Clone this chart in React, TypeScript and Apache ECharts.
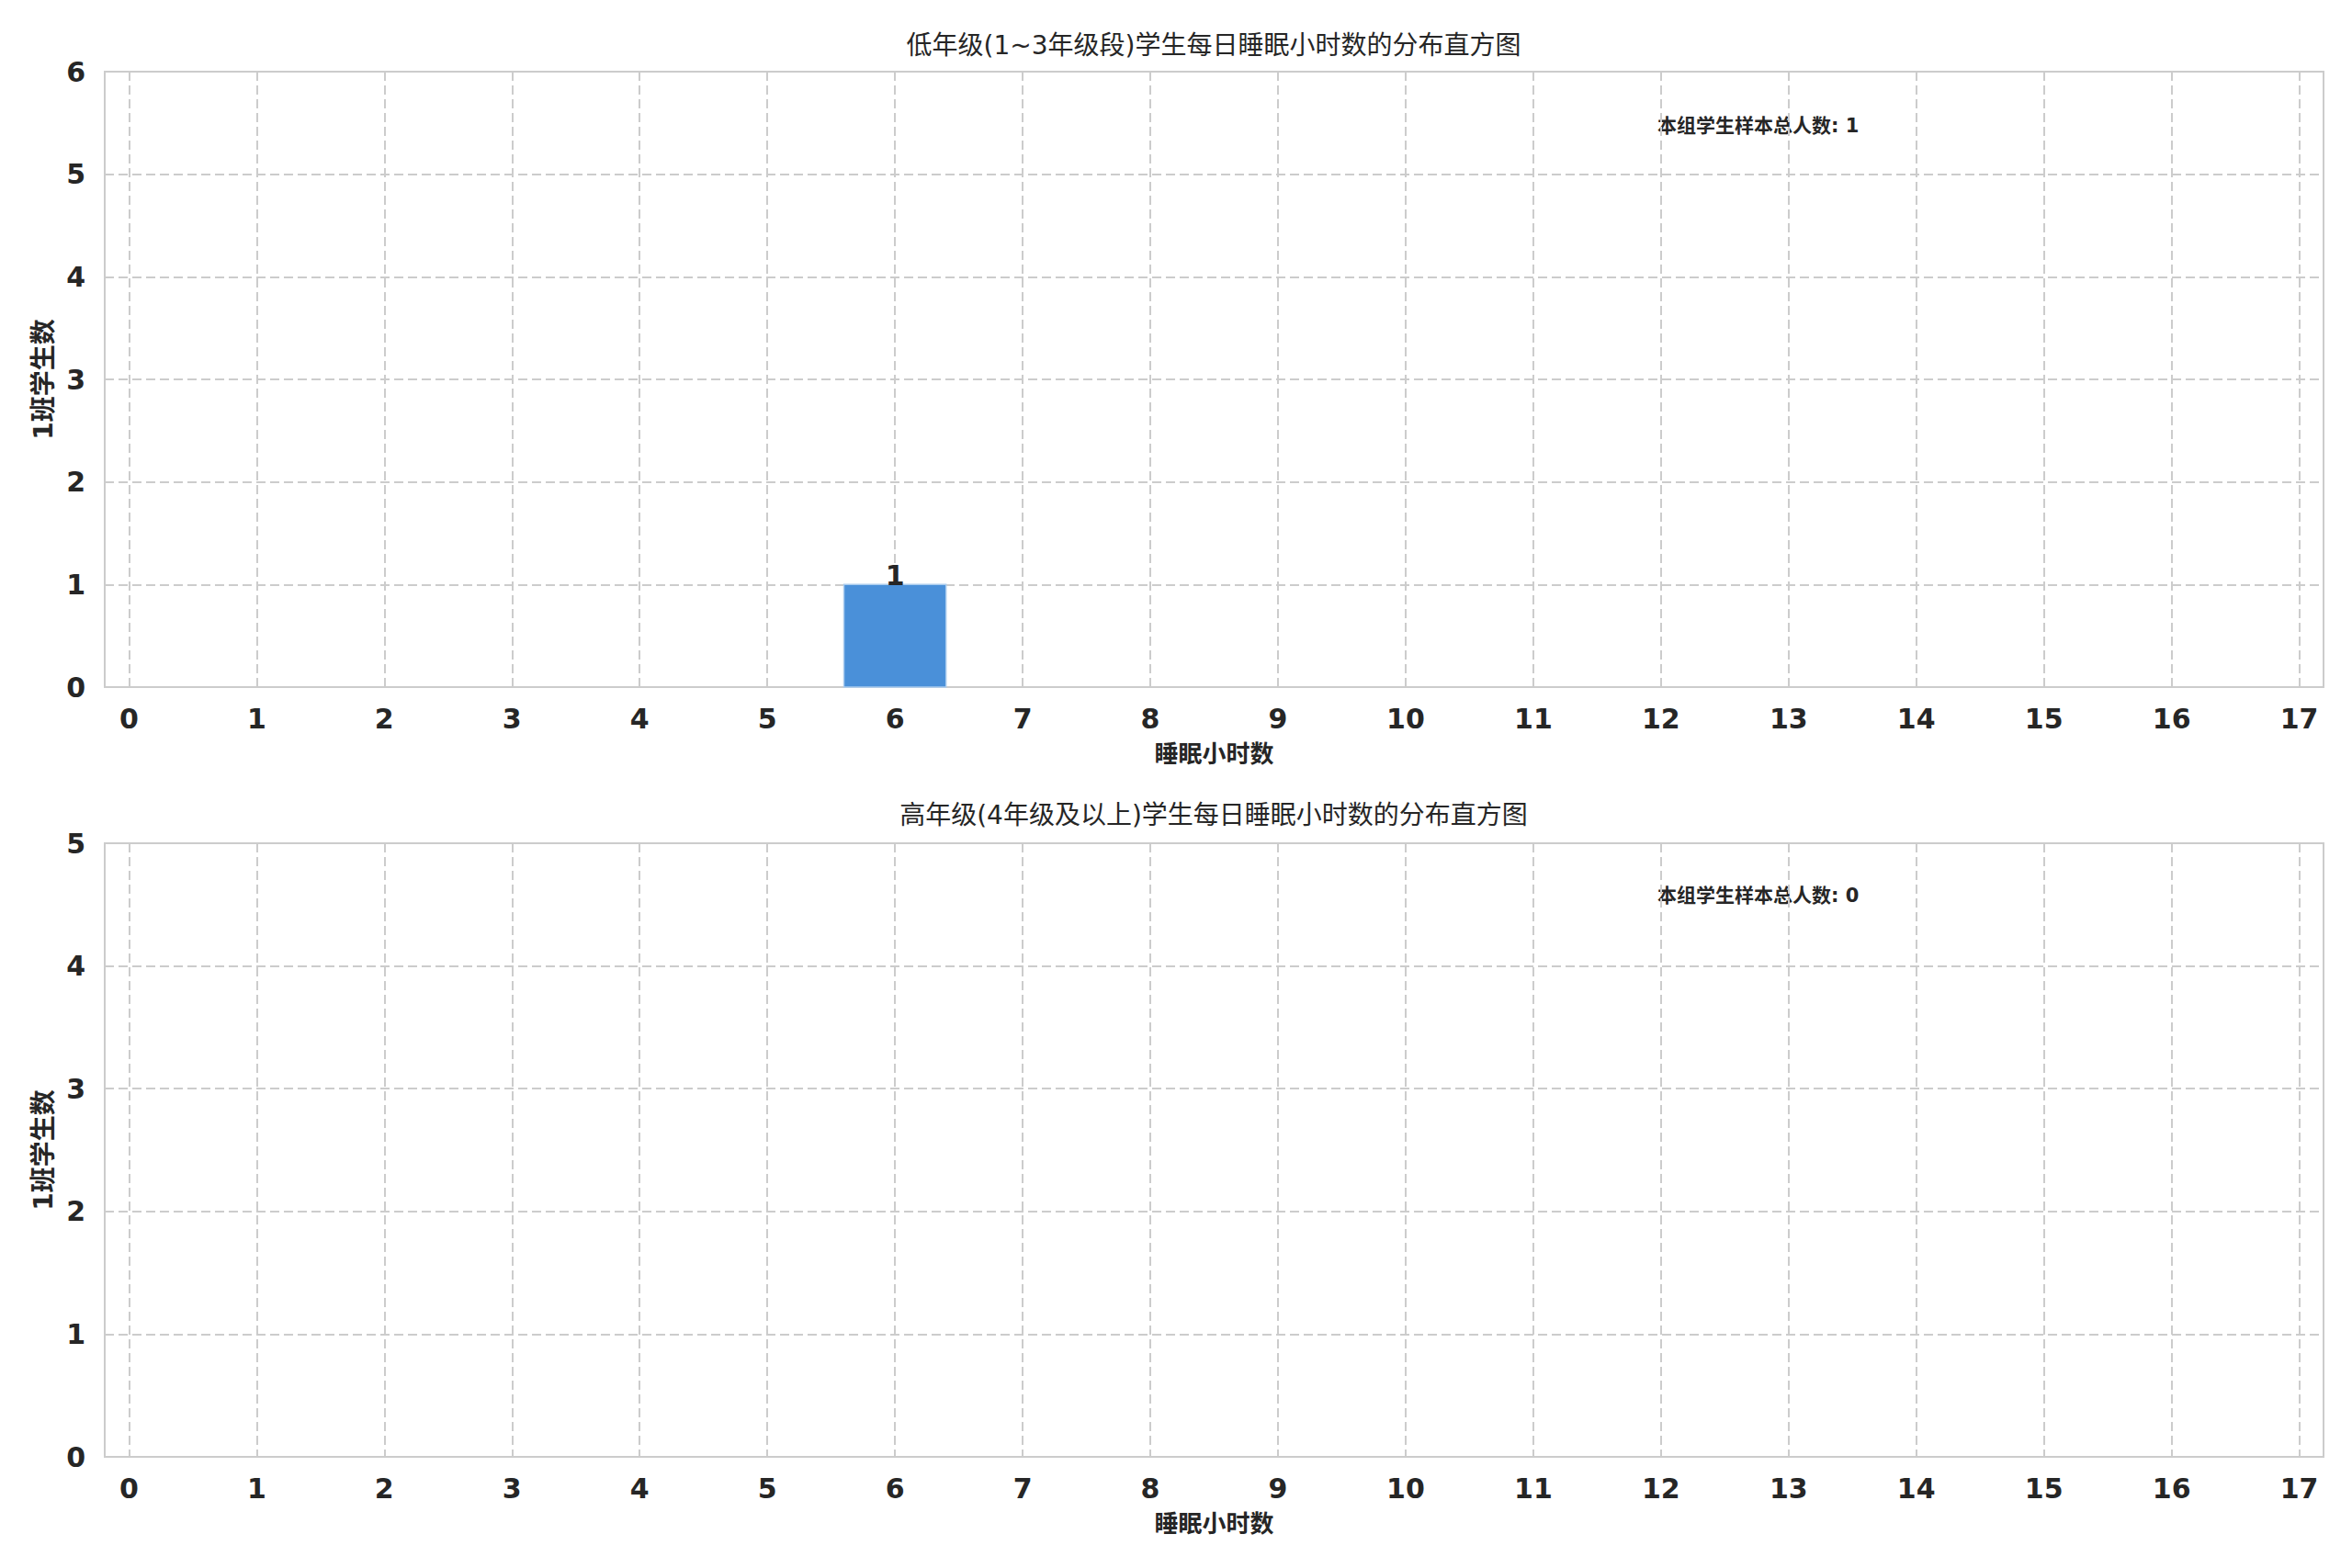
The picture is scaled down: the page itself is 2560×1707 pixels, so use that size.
import React, { useEffect, useRef } from "react";
import * as echarts from "echarts";

const categories = [0, 1, 2, 3, 4, 5, 6, 7, 8, 9, 10, 11, 12, 13, 14, 15, 16, 17];
const topCounts = [0, 0, 0, 0, 0, 0, 1, 0, 0, 0, 0, 0, 0, 0, 0, 0, 0, 0];
const bottomCounts = [0, 0, 0, 0, 0, 0, 0, 0, 0, 0, 0, 0, 0, 0, 0, 0, 0, 0];
const topYTicks = [0, 1, 2, 3, 4, 5, 6];
const bottomYTicks = [0, 1, 2, 3, 4, 5];

const topTitle = "低年级(1~3年级段)学生每日睡眠小时数的分布直方图";
const bottomTitle = "高年级(4年级及以上)学生每日睡眠小时数的分布直方图";
const xName = "睡眠小时数";
const yName = "1班学生数";
const totalLabel = "本组学生样本总人数";

const FONT = "'DejaVu Sans', 'Noto Sans CJK SC', sans-serif";
const TEXT = "#262626";
const GRIDC = "#cccccc";
const BAR = "#4a90d9";

const sum = (a: number[]) => a.reduce((s, v) => s + v, 0);

function xAxisFor(i: number) {
  return {
    type: "value",
    gridIndex: i,
    min: -0.19,
    max: 17.19,
    axisLine: { show: false },
    axisTick: { show: false, customValues: categories },
    axisLabel: {
      customValues: categories,
      fontSize: 30,
      fontWeight: "bold",
      color: TEXT,
      fontFamily: FONT,
      margin: 19,
    },
    splitLine: {
      show: true,
      lineStyle: { color: GRIDC, width: 2, type: [10, 5] },
    },
    name: xName,
    nameLocation: "middle",
    nameGap: 60,
    nameTextStyle: { fontSize: 26, fontWeight: "bold", color: TEXT, fontFamily: FONT },
  };
}

function yAxisFor(i: number, ticks: number[]) {
  return {
    type: "value",
    gridIndex: i,
    min: ticks[0],
    max: ticks[ticks.length - 1],
    interval: 1,
    axisLine: { show: false },
    axisTick: { show: false },
    axisLabel: {
      fontSize: 30,
      fontWeight: "bold",
      color: TEXT,
      fontFamily: FONT,
      margin: 21,
    },
    splitLine: {
      show: true,
      lineStyle: { color: GRIDC, width: 2, type: [10, 5] },
    },
    name: yName,
    nameLocation: "middle",
    nameRotate: 90,
    nameGap: 52,
    nameTextStyle: { fontSize: 28, fontWeight: "bold", color: TEXT, fontFamily: FONT },
  };
}

function barSeries(i: number, counts: number[]) {
  return {
    type: "custom",
    xAxisIndex: i,
    yAxisIndex: i,
    data: categories.map((c, k) => [c, counts[k]]),
    encode: { x: 0, y: 1 },
    renderItem: (params: any, api: any) => {
      const x = api.value(0);
      const y = api.value(1);
      if (!y) return null;
      const p0 = api.coord([x - 0.4, y]);
      const p1 = api.coord([x + 0.4, 0]);
      return {
        type: "group",
        children: [
          {
            type: "rect",
            shape: { x: p0[0], y: p0[1], width: p1[0] - p0[0], height: p1[1] - p0[1] },
            style: { fill: BAR, stroke: "#a9cbee", lineWidth: 1.5 },
          },
          {
            type: "text",
            x: (p0[0] + p1[0]) / 2,
            y: p0[1] + 5,
            style: {
              text: String(y),
              fill: TEXT,
              font: `bold 30px ${FONT}`,
              align: "center",
              verticalAlign: "bottom",
            },
          },
        ],
      };
    },
  };
}

export default function App() {
  const ref = useRef<HTMLDivElement>(null);
  useEffect(() => {
    if (!ref.current) return;
    const chart = echarts.init(ref.current, null, { renderer: "svg" });
    const option: any = {
      animation: false,
      backgroundColor: "#ffffff",
      textStyle: { fontFamily: FONT },
      grid: [
        { left: 114, right: 31, top: 78, height: 670, show: true, borderColor: GRIDC, borderWidth: 2, backgroundColor: "transparent" },
        { left: 114, right: 31, top: 918, height: 668, show: true, borderColor: GRIDC, borderWidth: 2, backgroundColor: "transparent" },
      ],
      xAxis: [xAxisFor(0), xAxisFor(1)],
      yAxis: [yAxisFor(0, topYTicks), yAxisFor(1, bottomYTicks)],
      series: [barSeries(0, topCounts), barSeries(1, bottomCounts)],
      graphic: [
        {
          type: "text",
          x: 1321,
          y: 49,
          style: { text: topTitle, font: `28px ${FONT}`, fill: TEXT, align: "center", verticalAlign: "middle" },
        },
        {
          type: "text",
          x: 1321,
          y: 887,
          style: { text: bottomTitle, font: `28px ${FONT}`, fill: TEXT, align: "center", verticalAlign: "middle" },
        },
        {
          type: "text",
          x: 1804,
          y: 137,
          style: { text: `${totalLabel}: ${sum(topCounts)}`, font: `bold 21px ${FONT}`, fill: TEXT, align: "left", verticalAlign: "middle" },
        },
        {
          type: "text",
          x: 1804,
          y: 975,
          style: { text: `${totalLabel}: ${sum(bottomCounts)}`, font: `bold 21px ${FONT}`, fill: TEXT, align: "left", verticalAlign: "middle" },
        },
      ],
    };
    chart.setOption(option);
    return () => chart.dispose();
  }, []);
  return (
    <div
      ref={ref}
      style={{ position: "fixed", left: 0, top: 0, width: 2560, height: 1707 }}
    />
  );
}
